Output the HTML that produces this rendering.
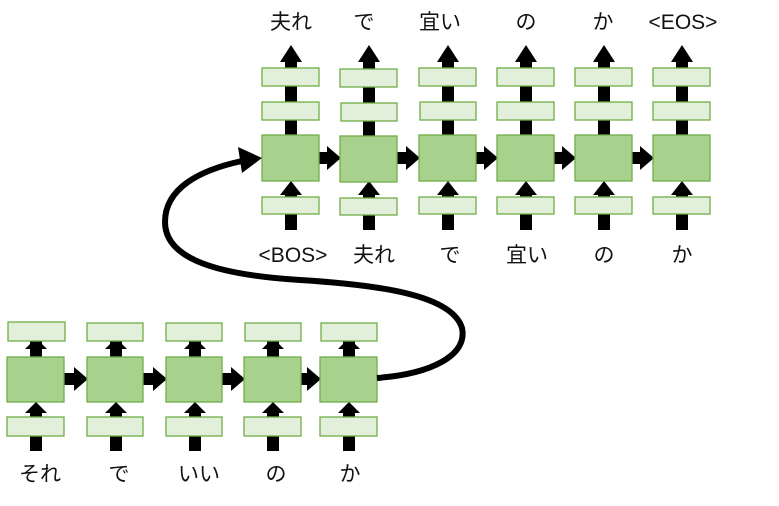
<!DOCTYPE html>
<html><head><meta charset="utf-8"><style>
body{margin:0;background:#fff}
svg{display:block}
text{font-family:"Liberation Sans","Noto Sans CJK JP",sans-serif;font-size:21px;fill:#111}
.b{fill:#a9d18e;stroke:#70ad47;stroke-width:1.3}
.l{fill:#e2efda;stroke:#70ad47;stroke-width:1.3}
</style></head><body>
<svg width="779" height="506" viewBox="0 0 779 506" xmlns="http://www.w3.org/2000/svg">
<g fill="#000">
<g transform="translate(262,0)">
 <rect x="23" y="55" width="12" height="82"/><polygon points="18,62 29,45 40,62"/>
 <rect x="23" y="192" width="12" height="38"/><polygon points="18,195 29,181 40,195"/>
</g>
<g transform="translate(340,0)">
 <rect x="23" y="55" width="12" height="82"/><polygon points="18,62 29,45 40,62"/>
 <rect x="23" y="192" width="12" height="38"/><polygon points="18,195 29,181 40,195"/>
</g>
<g transform="translate(419,0)">
 <rect x="23" y="55" width="12" height="82"/><polygon points="18,62 29,45 40,62"/>
 <rect x="23" y="192" width="12" height="38"/><polygon points="18,195 29,181 40,195"/>
</g>
<g transform="translate(497,0)">
 <rect x="23" y="55" width="12" height="82"/><polygon points="18,62 29,45 40,62"/>
 <rect x="23" y="192" width="12" height="38"/><polygon points="18,195 29,181 40,195"/>
</g>
<g transform="translate(575,0)">
 <rect x="23" y="55" width="12" height="82"/><polygon points="18,62 29,45 40,62"/>
 <rect x="23" y="192" width="12" height="38"/><polygon points="18,195 29,181 40,195"/>
</g>
<g transform="translate(653,0)">
 <rect x="23" y="55" width="12" height="82"/><polygon points="18,62 29,45 40,62"/>
 <rect x="23" y="192" width="12" height="38"/><polygon points="18,195 29,181 40,195"/>
</g>
<g><rect x="319" y="152" width="10" height="12"/><polygon points="327,146 341,158 327,170"/></g>
<g><rect x="397" y="152" width="11" height="12"/><polygon points="406,146 420,158 406,170"/></g>
<g><rect x="476" y="152" width="11" height="12"/><polygon points="484,146 498,158 484,170"/></g>
<g><rect x="554" y="152" width="11" height="12"/><polygon points="562,146 576,158 562,170"/></g>
<g><rect x="632" y="152" width="11" height="12"/><polygon points="640,146 654,158 640,170"/></g>
<g transform="translate(7,0)"><rect x="23" y="334" width="12" height="25"/><polygon points="18,349 29,338 40,349"/><rect x="23" y="410" width="12" height="41"/><polygon points="18,413 29,402 40,413"/></g>
<g transform="translate(87,0)"><rect x="23" y="334" width="12" height="25"/><polygon points="18,349 29,338 40,349"/><rect x="23" y="410" width="12" height="41"/><polygon points="18,413 29,402 40,413"/></g>
<g transform="translate(166,0)"><rect x="23" y="334" width="12" height="25"/><polygon points="18,349 29,338 40,349"/><rect x="23" y="410" width="12" height="41"/><polygon points="18,413 29,402 40,413"/></g>
<g transform="translate(244,0)"><rect x="23" y="334" width="12" height="25"/><polygon points="18,349 29,338 40,349"/><rect x="23" y="410" width="12" height="41"/><polygon points="18,413 29,402 40,413"/></g>
<g transform="translate(320,0)"><rect x="23" y="334" width="12" height="25"/><polygon points="18,349 29,338 40,349"/><rect x="23" y="410" width="12" height="41"/><polygon points="18,413 29,402 40,413"/></g>
<g><rect x="64" y="373" width="12" height="12"/><polygon points="74,367 88,379 74,391"/></g>
<g><rect x="143" y="373" width="12" height="12"/><polygon points="153,367 167,379 153,391"/></g>
<g><rect x="222" y="373" width="12" height="12"/><polygon points="231,367 245,379 231,391"/></g>
<g><rect x="301" y="373" width="8" height="12"/><polygon points="307,367 321,379 307,391"/></g>
</g>
<g>
<rect class="l" x="262" y="68" width="57" height="18"/><rect class="l" x="262" y="102" width="57" height="18"/><rect class="b" x="262" y="135" width="57" height="46"/><rect class="l" x="262" y="197" width="57" height="17"/>
<rect class="l" x="340" y="69" width="57" height="18"/><rect class="l" x="341" y="103" width="56" height="18"/><rect class="b" x="340" y="136" width="57" height="46"/><rect class="l" x="340" y="198" width="57" height="17"/>
<rect class="l" x="419" y="68" width="57" height="18"/><rect class="l" x="420" y="102" width="56" height="18"/><rect class="b" x="419" y="135" width="57" height="46"/><rect class="l" x="419" y="197" width="57" height="17"/>
<rect class="l" x="497" y="68" width="57" height="18"/><rect class="l" x="497" y="102" width="57" height="18"/><rect class="b" x="497" y="135" width="57" height="46"/><rect class="l" x="497" y="197" width="57" height="17"/>
<rect class="l" x="575" y="68" width="57" height="18"/><rect class="l" x="575" y="102" width="57" height="18"/><rect class="b" x="575" y="135" width="57" height="46"/><rect class="l" x="575" y="197" width="57" height="17"/>
<rect class="l" x="653" y="68" width="57" height="18"/><rect class="l" x="653" y="102" width="57" height="18"/><rect class="b" x="653" y="135" width="57" height="46"/><rect class="l" x="653" y="197" width="57" height="17"/>
</g>
<g>
<rect class="l" x="8" y="322" width="57" height="19"/><rect class="b" x="7" y="357" width="57" height="45"/><rect class="l" x="7" y="417" width="57" height="19"/>
<rect class="l" x="87" y="323" width="56" height="18"/><rect class="b" x="87" y="357" width="56" height="45"/><rect class="l" x="87" y="417" width="56" height="19"/>
<rect class="l" x="166" y="323" width="56" height="18"/><rect class="b" x="166" y="357" width="56" height="45"/><rect class="l" x="166" y="417" width="56" height="19"/>
<rect class="l" x="245" y="323" width="56" height="18"/><rect class="b" x="244" y="357" width="57" height="45"/><rect class="l" x="244" y="417" width="57" height="19"/>
<rect class="l" x="321" y="323" width="56" height="18"/><rect class="b" x="320" y="357" width="57" height="45"/><rect class="l" x="320" y="417" width="57" height="19"/>
</g>
<path d="M377,378 C430,374 468,356 462,328 C452,295 380,285 300,280 C220,275 165,260 165,222 C165,188 200,170 242,161" fill="none" stroke="#000" stroke-width="6"/>
<polygon points="238,147 262,158 242,173" fill="#000"/>
<g text-anchor="middle">
<text x="291" y="29">夫れ</text><text x="364" y="29">で</text><text x="440" y="29">宜い</text><text x="526" y="29">の</text><text x="603" y="29">か</text><text x="683" y="29">&lt;EOS&gt;</text>
<text x="293" y="262">&lt;BOS&gt;</text><text x="374" y="262">夫れ</text><text x="450" y="262">で</text><text x="527" y="262">宜い</text><text x="604" y="262">の</text><text x="682" y="262">か</text>
<text x="40" y="481">それ</text><text x="119" y="481">で</text><text x="199" y="481">いい</text><text x="276" y="481">の</text><text x="350" y="481">か</text>
</g>
</svg>
</body></html>
